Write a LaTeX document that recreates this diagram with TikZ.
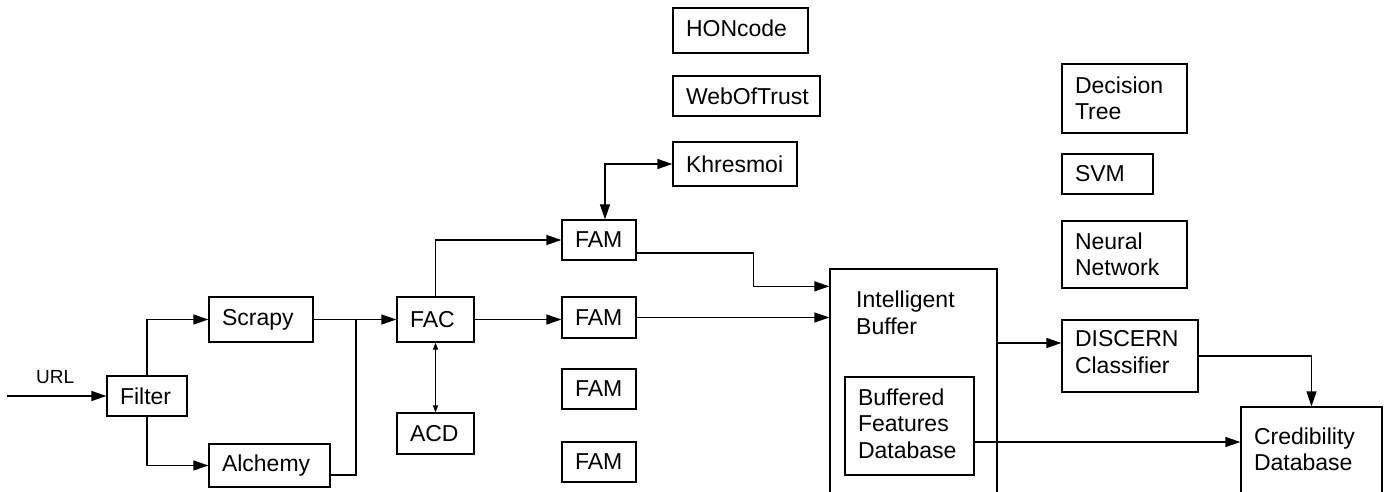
\documentclass[tikz,border=0pt]{standalone}
\usepackage{fontspec}
\setmainfont{Liberation Sans}
\usetikzlibrary{arrows.meta,calc}
\hyphenpenalty=10000
\exhyphenpenalty=10000
\newcommand\boxfont{\fontsize{23}{26.5}\selectfont}
\newcommand\urlfont{\fontsize{19}{22}\selectfont}
% invisible strut that adds depth below the last line of a box text
\newcommand\dpstrut[1]{\rule[-#1]{0pt}{#1}}

\begin{document}
\begin{tikzpicture}[x=1pt,y=-1pt,
  blk/.style={draw, line width=1.3pt, inner xsep=13pt, inner ysep=0pt,
              align=left, font=\boxfont},
  wire/.style={line width=1.3pt},
  arr/.style={wire, -{Triangle[length=15pt,width=10pt]}},
  both/.style={wire, {Triangle[length=15pt,width=10pt]}-{Triangle[length=15pt,width=10pt]}},
  smallboth/.style={wire, {Triangle[length=7pt,width=5pt]}-{Triangle[length=7pt,width=5pt]}}]

\useasboundingbox (0,0) rectangle (1385,492);

% input stage
\node[blk, minimum width=80pt,  minimum height=40pt, text width=54pt] (filter)  at (147,396)   {Filter};
\node[blk, minimum width=104pt, minimum height=45pt, text width=78pt] (scrapy)  at (261,319.5) {Scrapy};
\node[blk, minimum width=121pt, minimum height=43pt, text width=95pt] (alchemy) at (269.5,465.5) {Alchemy};

% feature extraction
\node[blk, minimum width=77pt, minimum height=45pt, text width=51pt] (fac) at (435.5,319.5) {FAC};
\node[blk, minimum width=77pt, minimum height=41pt, text width=51pt] (acd) at (435.5,433.5) {ACD};

\node[blk, minimum width=74pt, minimum height=40pt, text width=48pt] (fam1) at (599,240)   {FAM};
\node[blk, minimum width=74pt, minimum height=41pt, text width=48pt] (fam2) at (599,317.5) {FAM};
\node[blk, minimum width=74pt, minimum height=40pt, text width=48pt] (fam3) at (599,389)   {FAM};
\node[blk, minimum width=74pt, minimum height=40pt, text width=48pt] (fam4) at (599,462)   {FAM};

% external services
\node[blk, minimum width=135pt, minimum height=45pt, text width=109pt] (hon)   at (740.5,30.5) {HONcode\dpstrut{5pt}};
\node[blk, minimum width=147pt, minimum height=40pt, text width=121pt] (wot)   at (746.5,96)   {WebOfTrust};
\node[blk, minimum width=124pt, minimum height=44pt, text width=98pt]  (khres) at (735,164)    {Khresmoi};

% buffer (runs off the lower edge)
\node[blk, minimum width=167pt, minimum height=223.5pt] (buffer) at (913.5,380.75) {};
\node[font=\boxfont, anchor=north west, inner sep=0pt, align=left] (buftext) at (856,291) {Intelligent\\Buffer};
\node[blk, minimum width=129pt, minimum height=98pt, text width=103pt] (bfd) at (909.5,426)
  {Buffered\\Features\\Database\dpstrut{5pt}};

% classifiers
\node[blk, minimum width=125pt, minimum height=69pt, text width=99pt]  (dt)   at (1124.5,98.5) {Decision\\Tree};
\node[blk, minimum width=91pt,  minimum height=40pt, text width=65pt]  (svm)  at (1107.5,174)  {SVM};
\node[blk, minimum width=125pt, minimum height=67pt, text width=99pt]  (nn)   at (1124.5,254.5) {Neural\\Network};
\node[blk, minimum width=136pt, minimum height=72pt, text width=110pt] (disc) at (1130,356)    {DISCERN\\Classifier\dpstrut{8pt}};
\node[blk, minimum width=141pt, minimum height=85.5pt, text width=115pt] (cred) at (1311.5,449.75) {Credibility\\Database\dpstrut{1.5pt}};

% connectors
\coordinate (urlin) at (7,396);
\node[font=\urlfont, anchor=base west, inner sep=0pt] (url) at (36,383) {URL};
\draw[arr] (urlin) -- (filter.west);
\draw[arr] (filter.north) |- (scrapy.west);
\draw[arr] (filter.south) |- (alchemy.west);

\coordinate (join) at (356,319.5);
\draw[arr] (scrapy.east) -- (fac.west);
\draw[wire] ($(alchemy.east)+(0,9.5)$) -| (join);

\draw[arr] (fac.north) |- (fam1.west);
\draw[arr] (fac.east) -- (fac.east -| fam2.west);
\draw[smallboth] (fac.south) -- (acd.north);

\draw[both] (khres.west) -| ($(fam1.north)+(6,0)$);

\draw[arr] ($(fam1.east)+(0,13)$) -- ++(117,0) |- ($(buffer.north west)+(0,18)$);
\draw[arr] (fam2.east) -- (fam2.east -| buffer.west);

\coordinate (dcin) at ($(disc.west)+(0,-13)$);
\draw[arr] (buffer.east |- dcin) -- (dcin);
\draw[arr] (disc.east) -| (cred.north);

\coordinate (bfdout) at ($(bfd.east)+(0,16)$);
\draw[arr] (bfdout) -- (bfdout -| cred.west);

\end{tikzpicture}
\end{document}
